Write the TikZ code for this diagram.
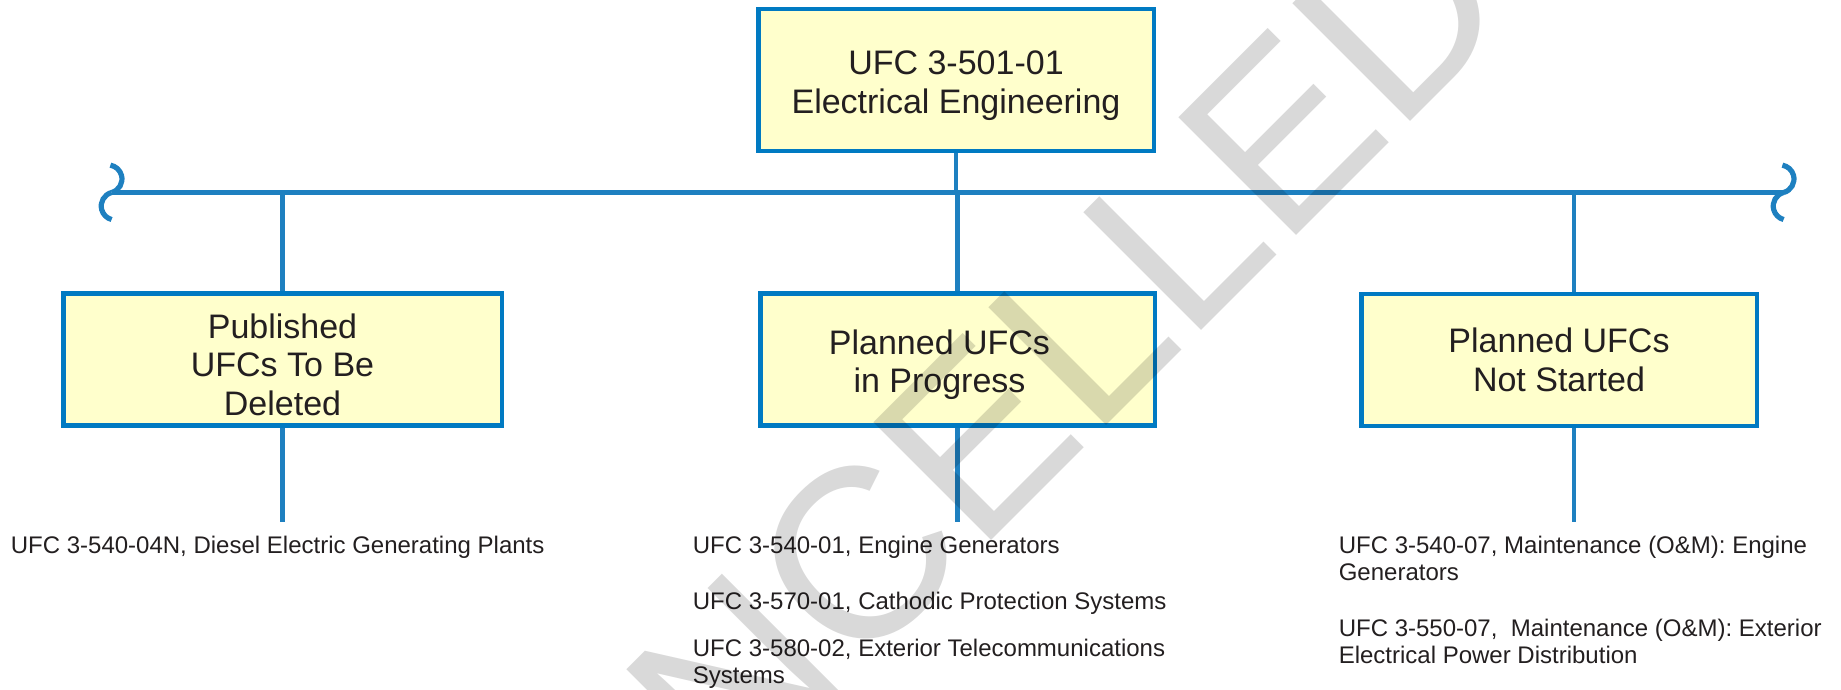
\documentclass[tikz,border=0pt]{standalone}
\usepackage{fontspec}
\setmainfont{Liberation Sans}
\definecolor{boxblue}{RGB}{0,122,194}
\definecolor{wireblue}{RGB}{30,128,192}
\definecolor{boxfill}{RGB}{255,255,204}
\definecolor{inkgray}{RGB}{35,31,32}
\newcommand\ufcstrut{\rule{0pt}{35pt}}
\tikzset{
	ufcbox/.style={draw=boxblue,line width=4.5pt,fill=boxfill,text=inkgray,align=center,font=\fontsize{34}{38.5}\selectfont,minimum width=395.5,minimum height=132},
	wire/.style={wireblue,line width=4.6pt},
	curl/.style={wireblue,line width=5.2pt},
	entry/.style={anchor=north west,inner sep=0pt,align=left,text=inkgray,font=\fontsize{24}{27.2}\selectfont},
	watermark/.style={anchor=base west,rotate=45,inner sep=0pt,text=black,opacity=0.15,font=\fontsize{242}{242}\selectfont}
}
\begin{document}
\begin{tikzpicture}[x=1pt,y=-1pt]
			\useasboundingbox (0,0) rectangle (1841,690);
			\node[ufcbox,minimum height=141.5] (top) at (956,80) {\ufcstrut UFC 3-501-01\\Electrical Engineering};
			\node[ufcbox,minimum width=438.5] (deleted) at (282.5,359.5) {\ufcstrut Published\\UFCs To Be\\Deleted};
			\node[ufcbox,minimum width=394.5] (progress) at (957.5,359.5) {\ufcstrut Planned UFCs\kern36pt\\in Progress\kern36pt};
			\node[ufcbox] (notstarted) at (1559,360) {Planned UFCs\\Not Started};
			\coordinate (busL) at (111.6,192.5);
			\coordinate (busR) at (1783.6,192.5);
			\coordinate (foot) at (0,522);
			\coordinate (nsTop) at ([xshift=15]notstarted.north);
			\coordinate (nsBot) at ([xshift=15]notstarted.south);
			\draw[wire] (busL) -- (busR);
			\draw[curl] (busL) arc[start angle=-75,end angle=80,radius=14pt];
			\draw[curl] (busL) arc[start angle=105,end angle=255,radius=14pt];
			\draw[curl] (busR) arc[start angle=-75,end angle=80,radius=14pt];
			\draw[curl] (busR) arc[start angle=105,end angle=255,radius=14pt];
			\draw[wire] (top.south) -- (top.south |- busL);
			\draw[wire] (deleted.north) -- (deleted.north |- busL);
			\draw[wire] (progress.north) -- (progress.north |- busL);
			\draw[wire] (nsTop) -- (nsTop |- busL);
			\draw[wire] (deleted.south) -- (deleted.south |- foot);
			\draw[wire] (progress.south) -- (progress.south |- foot);
			\draw[wire] (nsBot) -- (nsBot |- foot);
			\node[entry] (diesel) at (10.7,535.7) {UFC 3-540-04N, Diesel Electric Generating Plants};
			\node[entry] (engine) at (692.7,535.7) {UFC 3-540-01, Engine Generators};
			\node[entry] (cathodic) at (692.7,591.8) {UFC 3-570-01, Cathodic Protection Systems};
			\node[entry] (telecom) at (692.7,638.8) {UFC 3-580-02, Exterior Telecommunications\\Systems};
			\node[entry] (omengine) at (1338.6,535.5) {UFC 3-540-07, Maintenance (O\&M): Engine\\Generators};
			\node[entry] (ompower) at (1338.6,619.2) {UFC 3-550-07,\ \ Maintenance (O\&M): Exterior\\Electrical Power Distribution};
			\node[watermark] (cancelled) at (493,1039) {CANCELLED};
		\end{tikzpicture}
\end{document}
